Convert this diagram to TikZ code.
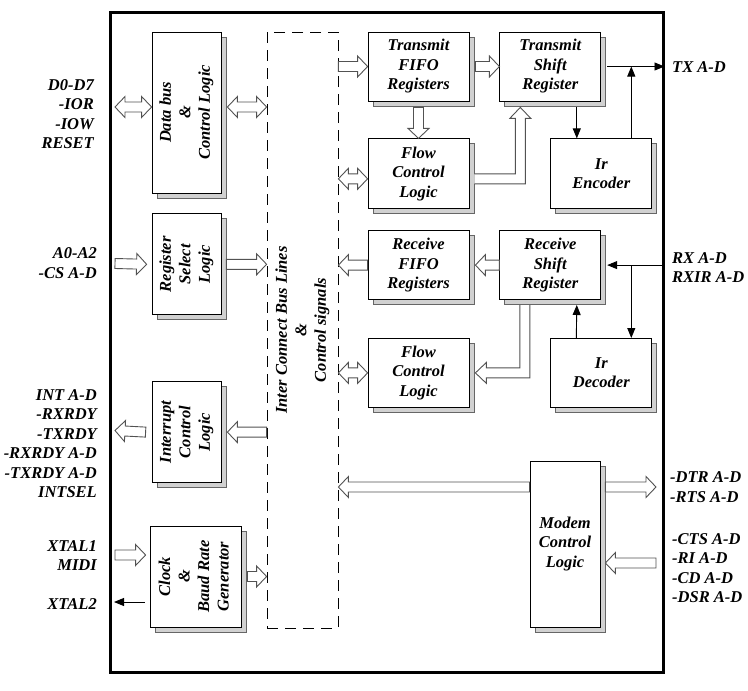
\documentclass[tikz,border=0pt]{standalone}
\usepackage{fontspec}
\setmainfont{Liberation Serif}
\usetikzlibrary{positioning,calc,shadows,arrows.meta}

\newcommand\sidetext[1]{\rotatebox{90}{\begin{tabular}{@{}c@{}}#1\end{tabular}}}

\begin{document}
\begin{tikzpicture}[x=1pt,y=-1pt,
            font=\fontsize{16.5}{19.5}\selectfont\bfseries\itshape,
            blk/.style={draw, fill=white, line width=0.8pt, align=center, inner sep=0pt,
              general shadow={shadow xshift=5pt, shadow yshift=-5pt, fill=black!18, draw=black!60, line width=0.8pt}},
            hblk/.style={blk, minimum width=101pt, minimum height=69pt},
            vblk/.style={blk, minimum width=69pt, minimum height=101pt},
            lbl/.style={align=right, anchor=east, inner sep=0pt},
            rlbl/.style={align=left, anchor=west, inner sep=0pt},
            sig/.style={line width=0.9pt, -{Triangle[length=10pt,width=8pt]}},
            fatline/.style={draw=black!68, fill=white, line width=0.9pt},
            fat/.style={fatline, to path={
              let \p1=($(\tikztotarget)-(\tikztostart)$), \n1={atan2(\y1,\x1)} in
              ($(\tikztostart)+(\n1+90:5pt)$) -- ($(\tikztotarget)+(\n1:-10pt)+(\n1+90:5pt)$)
              -- ($(\tikztotarget)+(\n1:-10pt)+(\n1+90:10.5pt)$) -- (\tikztotarget)
              -- ($(\tikztotarget)+(\n1:-10pt)+(\n1-90:10.5pt)$) -- ($(\tikztotarget)+(\n1:-10pt)+(\n1-90:5pt)$)
              -- ($(\tikztostart)+(\n1-90:5pt)$) -- cycle}},
            fatboth/.style={fatline, to path={
              let \p1=($(\tikztotarget)-(\tikztostart)$), \n1={atan2(\y1,\x1)} in
              (\tikztostart) -- ($(\tikztostart)+(\n1:10pt)+(\n1+90:10.5pt)$)
              -- ($(\tikztostart)+(\n1:10pt)+(\n1+90:5pt)$) -- ($(\tikztotarget)+(\n1:-10pt)+(\n1+90:5pt)$)
              -- ($(\tikztotarget)+(\n1:-10pt)+(\n1+90:10.5pt)$) -- (\tikztotarget)
              -- ($(\tikztotarget)+(\n1:-10pt)+(\n1-90:10.5pt)$) -- ($(\tikztotarget)+(\n1:-10pt)+(\n1-90:5pt)$)
              -- ($(\tikztostart)+(\n1:10pt)+(\n1-90:5pt)$) -- ($(\tikztostart)+(\n1:10pt)+(\n1-90:10.5pt)$) -- cycle}}]

        \useasboundingbox (0,0) rectangle (748,691);

        % Chip outline and internal bus
        \node[draw, line width=3pt, minimum width=553pt, minimum height=660pt, inner sep=0pt] (chip) at (386.5,342) {};
        \node[draw, dash pattern=on 11pt off 7pt, line width=0.8pt, minimum width=71pt, minimum height=596pt, inner sep=0pt] (bus) at (302.5,330) {};
        \node[rotate=90, align=center] (bustxt) at (bus.center) {Inter Connect Bus Lines\\\&\\Control signals};

        % Define blocks
        \node[blk, minimum width=69pt, minimum height=161pt] (dbus) at (186.5,112.5) {\sidetext{Data bus\\\&\\Control Logic}};
        \node[vblk, below=20pt of dbus] (regsel) {\sidetext{Register\\Select\\Logic}};
        \node[vblk, below=66pt of regsel] (intr) {\sidetext{Interrupt\\Control\\Logic}};
        \node[blk, minimum width=91pt, minimum height=101pt] (clk) at (195.5,576.5) {\sidetext{Clock\\\&\\Baud Rate\\Generator}};

        \node[hblk] (txfifo) at (418.5,66.5) {Transmit\\FIFO\\Registers};
        \node[hblk, right=30pt of txfifo] (txshift) {Transmit\\Shift\\Register};
        \node[hblk, minimum height=70pt, below=37pt of txfifo] (txflow) {Flow\\Control\\Logic};
        \node[hblk, minimum height=70pt, right=81pt of txflow] (irenc) {Ir\\Encoder};
        \node[hblk, below=21pt of txflow] (rxfifo) {Receive\\FIFO\\Registers};
        \node[hblk, right=30pt of rxfifo] (rxshift) {Receive\\Shift\\Register};
        \node[hblk, below=38pt of rxfifo] (rxflow) {Flow\\Control\\Logic};
        \node[hblk, right=81pt of rxflow] (irdec) {Ir\\Decoder};
        \node[blk, minimum width=70pt, minimum height=166pt] (modem) at (565,544) {Modem\\Control\\Logic};

        % Pin labels
        \node[lbl] (dlbl) at (94,114) {D0-D7\\-IOR\\-IOW\\RESET};
        \node[lbl] (albl) at (97,263) {A0-A2\\-CS A-D};
        \node[lbl] (ilbl) at (97,443.5) {INT A-D\\-RXRDY\\-TXRDY\\-RXRDY A-D\\-TXRDY A-D\\INTSEL};
        \node[lbl] (xlbl) at (97,555.5) {XTAL1\\MIDI};
        \node[lbl] (x2lbl) at (97,604) {XTAL2};
        \node[rlbl] (txlbl) at (672,67) {TX A-D};
        \node[rlbl] (rxlbl) at (672,267.5) {RX A-D\\RXIR A-D};
        \node[rlbl] (mlbl) at (670,487) {-DTR A-D\\-RTS A-D};
        \node[rlbl] (clbl) at (672,568) {-CTS A-D\\-RI A-D\\-CD A-D\\-DSR A-D};

        % Free ends and helper points
        \coordinate (dpins) at (115,107);
        \coordinate (apins) at (115,263.5);
        \coordinate (ipins) at (115,430.5);
        \coordinate (xin) at (115,555);
        \coordinate (xout) at (114,602);
        \coordinate (dtr) at (656,487);
        \coordinate (cts) at (656,563);
        \coordinate (dbusr) at ($(dbus.east |- dpins)+(6,0)$);
        \coordinate (xinr) at ($(clk.west |- xin)+(-4,0)$);
        \coordinate (xoutl) at ($(clk.west |- xout)+(-5,0)$);
        \coordinate (txflowl) at ($(txflow.west)+(0,5)$);
        \coordinate (txj) at ($(irenc.north)+(30,0)$);
        \coordinate (txd) at ($(txshift.south)+(26.5,6)$);
        \coordinate (rxj) at ($(irdec.north)+(30,0)$);
        \coordinate (rxu) at ($(irdec.north)+(-25,0)$);
        \coordinate (rxs) at ($(rxshift.south)+(26.5,5)$);
        \coordinate (mbus) at ($(modem.west)+(0,-57)$);
        \coordinate (mdtr) at ($(modem.east |- dtr)+(5,0)$);
        \coordinate (mcts) at ($(modem.east |- cts)+(5,0)$);

        % Draw bus arrows
        \draw[fatboth] (dpins) to (dbus.west |- dpins);
        \draw[fatboth] (dbusr) to (bus.west |- dpins);
        \draw[fat] (apins) to ([xshift=-5pt]regsel.west);
        \draw[fat] ([xshift=5pt]regsel.east) to (bus.west |- regsel.east);
        \draw[fat] (bus.west |- intr.east) to ([xshift=6pt]intr.east);
        \draw[fat] ([xshift=-6pt]intr.west) to (ipins);
        \draw[fat] (xin) to (xinr);
        \draw[fat] ([xshift=6pt]clk.east) to (bus.west |- clk.east);

        \draw[fat] (bus.east |- txfifo.west) to (txfifo.west);
        \draw[fatboth] (bus.east |- txflowl) to (txflowl);
        \draw[fat] ([xshift=6pt]txfifo.east) to (txshift.west);
        \draw[fat] ([yshift=-6pt]txfifo.south) to (txflow.north);
        \draw[fat] (rxshift.west) to ([xshift=6pt]rxfifo.east);
        \draw[fat] (rxfifo.west) to (bus.east |- rxfifo.west);
        \draw[fatboth] (bus.east |- rxflow.west) to (rxflow.west);
        \draw[fat] (mbus) to (bus.east |- mbus);
        \draw[fat] (mdtr) to (dtr);
        \draw[fat] (cts) to (mcts);

        % Flow control to shift registers
        \coordinate (tl0) at ($(txflow.east)+(5,5)$);
        \coordinate (tl1) at ($(txshift.south)+(-30,6)$);
        \draw[fatline] let \p1=(tl0), \p2=(tl1) in
            ({\x1},{\y1+5pt}) -- ({\x2-5pt},{\y1+5pt}) -- ({\x2-5pt},{\y2-11pt}) -- ({\x2-10.5pt},{\y2-11pt})
            -- (\p2) -- ({\x2+10.5pt},{\y2-11pt}) -- ({\x2+5pt},{\y2-11pt}) -- ({\x2+5pt},{\y1-5pt}) -- ({\x1},{\y1-5pt});
        \coordinate (rl0) at ($(rxshift.south)+(-25.5,5)$);
        \coordinate (rl1) at ($(rxflow.east)+(6,0)$);
        \draw[fatline] let \p1=(rl0), \p2=(rl1) in
            ({\x1-5pt},{\y1}) -- ({\x1-5pt},{\y2+5pt}) -- ({\x2+11pt},{\y2+5pt}) -- ({\x2+11pt},{\y2+10.5pt})
            -- (\p2) -- ({\x2+11pt},{\y2-10.5pt}) -- ({\x2+11pt},{\y2-5pt}) -- ({\x1+5pt},{\y2-5pt}) -- ({\x1+5pt},{\y1});

        % Draw signal lines
        \path[sig]
            ([xshift=6pt]txshift.east) edge (chip.east |- txshift.east)
            (txj) edge (txj |- txshift.east)
            (txd) edge (txd |- irenc.north)
            (chip.east |- rxshift.east) edge ([xshift=6pt]rxshift.east)
            (rxj |- rxshift.east) edge (rxj)
            (rxu) edge (rxs)
            (xoutl) edge (xout);

        \end{tikzpicture}
\end{document}
